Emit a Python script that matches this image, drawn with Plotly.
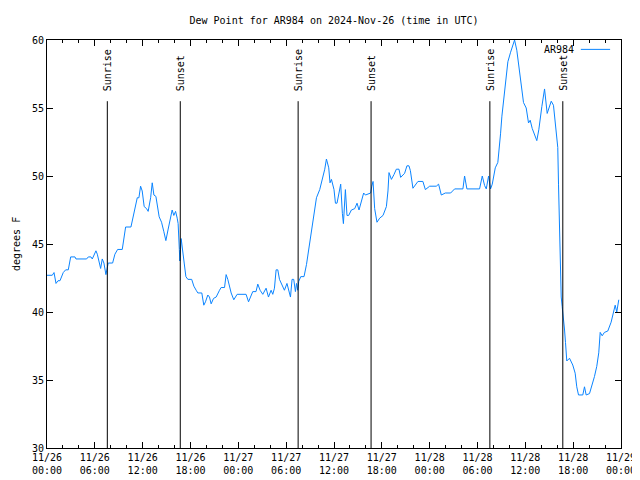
import pandas as pd
import plotly.graph_objects as go

title = "Dew Point for AR984 on 2024-Nov-26 (time in UTC)"
series_name = "AR984"
start = "2024-11-26 00:00"
end = "2024-11-29 00:00"

hours = [0.0, 0.66, 0.88, 1.13, 1.38, 1.63, 2.04, 2.34, 2.67, 2.97, 3.51, 3.63, 4.97, 5.18, 5.51, 5.68,
         6.14, 6.31, 6.73, 6.93, 7.14, 7.39, 7.68, 8.23, 8.52, 8.86, 9.44, 9.65, 9.86, 10.53, 10.9, 11.12,
         11.32, 11.53, 11.74, 11.94, 12.19, 12.49, 12.69, 13.0, 13.2, 13.41, 13.66, 14.07, 14.37, 14.66,
         14.91, 15.2, 15.5, 15.7, 15.91, 16.13, 16.33, 16.45, 16.6, 16.66, 16.83, 17.0, 17.21, 17.42,
         17.67, 18.15, 18.42, 18.71, 18.92, 19.42, 19.67, 19.88, 20.17, 20.38, 20.59, 20.89, 21.22, 21.64,
         21.84, 22.27, 22.47, 22.68, 23.1, 23.43, 23.85, 24.97, 25.28, 25.81, 26.22, 26.44, 26.73, 27.07,
         27.48, 27.78, 28.11, 28.32, 28.53, 28.74, 28.95, 29.16, 29.36, 29.78, 30.1, 30.54, 30.74, 30.95,
         31.16, 31.3, 31.45, 31.58, 31.83, 32.24, 32.55, 32.83, 33.05, 33.3, 33.5, 33.8, 34.21, 34.5,
         34.84, 35.05, 35.17, 35.34, 35.5, 35.68, 36.0, 36.18, 36.38, 36.59, 36.84, 37.05, 37.18, 37.43,
         37.63, 37.84, 38.18, 38.6, 38.89, 39.14, 39.43, 39.72, 39.94, 40.35, 40.6, 40.74, 40.9, 41.1,
         41.39, 41.73, 42.15, 42.57, 42.77, 42.9, 43.2, 43.52, 43.82, 44.15, 44.36, 44.86, 45.15, 45.4,
         45.58, 45.9, 46.12, 46.32, 46.53, 47.15, 47.46, 48.0, 48.83, 49.12, 49.46, 49.96, 50.63, 51.13,
         52.17, 52.38, 52.67, 54.26, 54.6, 54.89, 55.1, 55.39, 55.64, 55.85, 56.02, 56.23, 56.55, 56.77,
         56.89, 57.06, 57.27, 57.52, 57.81, 58.15, 58.43, 58.65, 58.93, 59.19, 59.49, 59.77, 60.11, 60.4,
         60.61, 60.86, 61.44, 61.69, 62.07, 62.41, 62.74, 62.94, 63.25, 63.53, 63.87, 64.07, 64.16, 64.32,
         64.5, 64.62, 64.79, 64.91, 65.04, 65.2, 65.54, 65.95, 66.25, 66.45, 66.67, 67.21, 67.42, 67.63,
         68.05, 68.33, 68.67, 68.96, 69.21, 69.39, 69.64, 69.92, 70.34, 70.76, 71.05, 71.27, 71.47, 71.72]

dew_point = [42.7, 42.7, 42.9, 42.1, 42.3, 42.3, 42.9, 43.1, 43.1, 44.05, 44.05, 43.9, 43.9, 44.05, 44.05, 43.9,
             44.5, 44.25, 43.2, 43.9, 43.6, 42.75, 43.6, 43.6, 44.25, 44.6, 44.6, 45.5, 46.25, 46.25, 47.25, 48.0,
             48.4, 48.4, 49.25, 48.9, 47.75, 47.6, 47.4, 48.4, 49.5, 48.6, 48.5, 47.0, 46.6, 45.9,
             45.25, 46.1, 46.9, 47.5, 47.1, 47.4, 46.9, 46.5, 44.6, 43.75, 45.4, 44.4, 43.6, 42.6,
             42.4, 42.4, 41.9, 41.6, 41.4, 41.4, 40.5, 40.75, 41.25, 41.1, 40.6, 41.0, 41.1, 41.6,
             41.8, 41.8, 42.75, 42.4, 41.4, 40.9, 41.3, 41.3, 40.75, 41.5, 41.5, 42.05, 41.6, 41.3,
             41.75, 41.1, 41.6, 41.3, 41.75, 43.1, 43.1, 42.4, 42.1, 41.6, 42.1, 41.1, 42.4, 42.4,
             41.5, 42.1, 41.6, 42.25, 42.6, 42.6, 43.5, 44.6, 45.75, 46.75, 47.5, 48.4, 49.0, 49.6,
             50.5, 51.25, 51.0, 50.6, 49.5, 49.75, 49.0, 48.0, 48.0, 48.75, 49.4, 47.25, 46.5, 49.0,
             47.1, 47.1, 47.5, 47.6, 48.0, 47.5, 48.1, 48.75, 48.6, 48.7, 48.75, 49.25, 49.6, 47.6,
             46.6, 46.9, 47.1, 47.75, 48.9, 50.25, 49.75, 50.1, 50.5, 50.5, 49.9, 50.2, 50.75, 50.75,
             50.4, 49.1, 49.3, 49.4, 49.6, 49.6, 49.0, 49.25, 49.25, 49.4, 48.6, 48.75, 48.75, 49.05,
             49.05, 50.0, 49.05, 49.05, 50.0, 49.3, 49.05, 50.0, 49.05, 49.4, 49.9, 50.6, 51.0, 52.1,
             53.1, 54.4, 55.4, 56.9, 58.4, 59.1, 59.6, 60.0, 59.25, 58.1, 56.6, 55.4, 55.0, 53.9,
             54.1, 53.5, 52.6, 53.4, 55.1, 56.4, 54.6, 55.0, 55.5, 55.2, 53.5, 52.1, 49.4, 44.1,
             41.1, 40.4, 39.6, 38.75, 37.75, 36.4, 36.6, 36.1, 35.5, 34.5, 33.9, 33.9, 34.5, 33.9,
             34.0, 34.5, 35.25, 36.0, 37.0, 38.5, 38.25, 38.5, 38.6, 39.25, 40.0, 40.5, 40.0, 40.9]

event_times = ["2024-11-26 07:34", "2024-11-26 16:43", "2024-11-27 07:30",
               "2024-11-27 16:39", "2024-11-28 07:33", "2024-11-28 16:42"]
event_labels = ["Sunrise", "Sunset", "Sunrise", "Sunset", "Sunrise", "Sunset"]

y_ticks = [30, 35, 40, 45, 50, 55, 60]

FONT = "DejaVu Sans Mono"
LINE_COLOR = "#0a84ff"

times = pd.Timestamp(start) + pd.to_timedelta(hours, unit="h")

fig = go.Figure()
fig.add_trace(go.Scatter(x=times, y=dew_point, mode="lines", name=series_name,
                         line=dict(color=LINE_COLOR, width=1), showlegend=False))

for t, lab in zip(event_times, event_labels):
    fig.add_shape(type="line", xref="x", yref="paper", x0=t, x1=t, y0=0, y1=0.85,
                  line=dict(color="black", width=1))
    fig.add_annotation(x=t, xref="x", y=0.87, yref="paper", text=lab, textangle=-90,
                       showarrow=False, xanchor="center", yanchor="bottom",
                       font=dict(family=FONT, size=10, color="black"))

# legend drawn gnuplot-style: text then sample line
fig.add_annotation(x=0.9216, xref="paper", y=0.977, yref="paper", text=series_name,
                   showarrow=False, xanchor="right", yanchor="middle",
                   font=dict(family=FONT, size=10, color="black"))
fig.add_shape(type="line", xref="paper", yref="paper", x0=0.930, x1=0.981, y0=0.977, y1=0.977,
              line=dict(color=LINE_COLOR, width=1))

fig.add_annotation(x=-0.054, xref="paper", y=0.5, yref="paper", text="degrees F", textangle=-90,
                   showarrow=False, xanchor="center", yanchor="middle",
                   font=dict(family=FONT, size=10, color="black"))

# page body has an 8px margin: shrink the figure so the plot lands where the reference has it
fig.update_layout(
    width=632, height=472,
    margin=dict(l=39, r=19, t=32, b=32, autoexpand=False),
    paper_bgcolor="white", plot_bgcolor="white",
    title=dict(text=title, x=(39 + 613) / 2 / 632, xanchor="center", y=1 - 12 / 472, yanchor="middle",
               font=dict(family=FONT, size=10, color="black"),
               automargin=False),
    font=dict(family=FONT, size=10, color="black"),
)
fig.update_xaxes(
    range=[start, end], type="date", showgrid=False, zeroline=False, automargin=False,
    showline=True, linecolor="black", linewidth=1, mirror="ticks",
    ticks="inside", ticklen=6, tickcolor="black",
    tick0=start, dtick=6 * 3600 * 1000, tickformat="%m/%d<br>%H:%M",
    minor=dict(dtick=2 * 3600 * 1000, ticks="inside", ticklen=3, tickcolor="black", showgrid=False),
    tickfont=dict(family=FONT, size=10, color="black"),
)
fig.update_yaxes(
    range=[30, 60], showgrid=False, zeroline=False, automargin=False,
    showline=True, linecolor="black", linewidth=1, mirror="ticks",
    ticks="inside", ticklen=6, tickcolor="black",
    tickvals=y_ticks, ticktext=[str(v) for v in y_ticks],
    tickfont=dict(family=FONT, size=10, color="black"),
)

fig.write_html("out.html")
